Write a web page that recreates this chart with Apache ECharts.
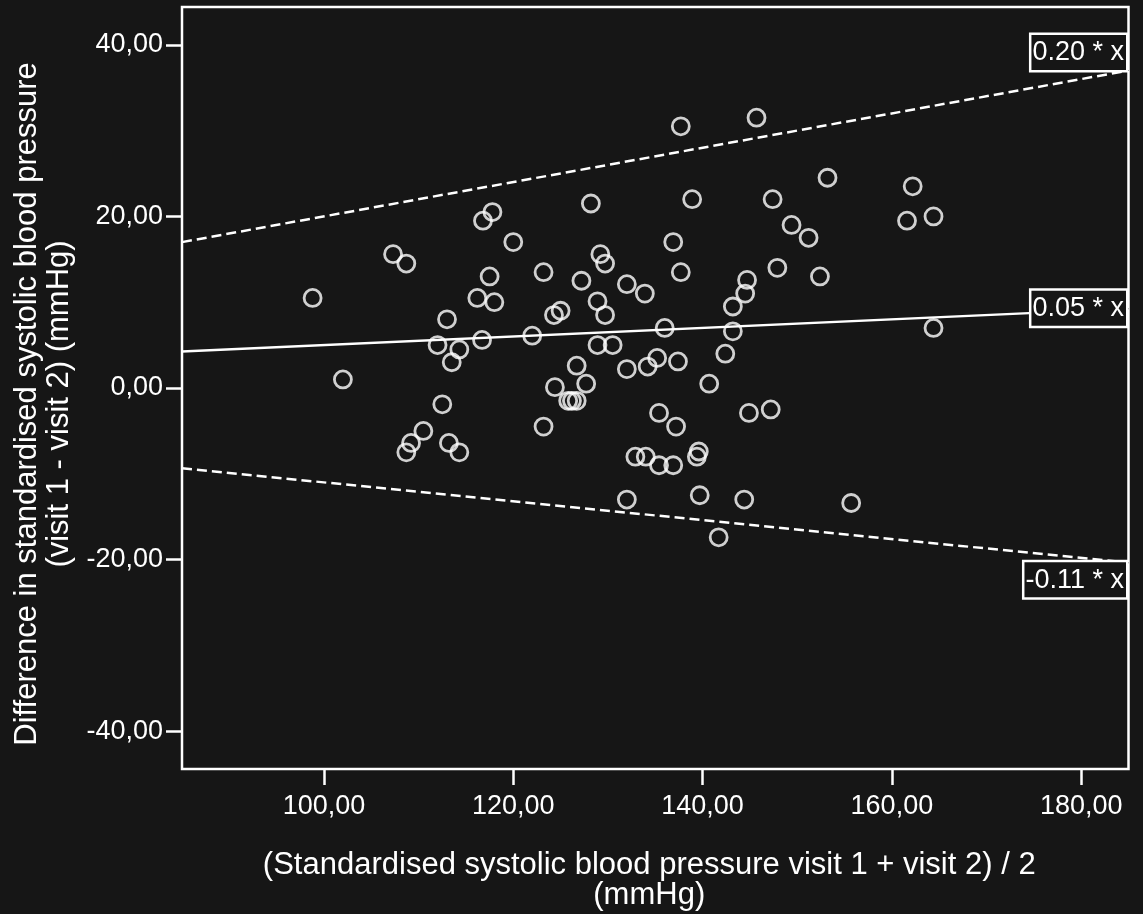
<!DOCTYPE html>
<html>
<head>
<meta charset="utf-8">
<title>Bland-Altman plot of standardised systolic blood pressure</title>
<script src="https://cdn.jsdelivr.net/npm/echarts@6/dist/echarts.min.js"></script>
<style>
  html, body { margin: 0; padding: 0; background: #161616; }
  #chart { width: 1143px; height: 914px; }
</style>
</head>
<body>
<div id="chart"></div>
<script>
// Mean of visit 1 and visit 2 (mmHg)
const meanBP = [
  98.8, 102.0, 107.3, 108.7, 108.7, 109.2, 110.5, 112.0, 112.5, 113.0,
  113.2, 113.5, 114.3, 114.3, 116.2, 116.8, 116.7, 117.5, 117.8, 118.0,
  120.0, 122.0, 123.2, 123.2, 124.3, 124.4, 125.0, 125.8, 126.2, 126.7,
  126.7, 127.2, 127.7, 128.2, 128.9, 129.2, 128.9, 129.7, 129.7, 130.5,
  132.0, 132.0, 132.0, 132.9, 133.9, 134.0, 134.2, 135.2, 135.4, 135.4,
  136.0, 136.9, 136.9, 137.2, 137.4, 137.7, 137.7, 138.9, 139.4, 139.6,
  139.7, 140.7, 141.7, 142.4, 143.2, 143.2, 144.4, 144.5, 144.7, 144.9,
  145.7, 147.2, 147.4, 147.9, 149.4, 151.2, 152.4, 153.2, 155.7, 161.6,
  162.2, 164.4, 164.4
];
// Difference visit 1 - visit 2 (mmHg)
const diffBP = [
  10.5, 1.0, 15.6, 14.5, -7.5, -6.4, -5.0, 5.0, -1.9, 8.0,
  -6.4, 3.0, 4.5, -7.5, 10.5, 19.5, 5.6, 13.0, 20.5, 10.0,
  17.0, 6.1, 13.5, -4.5, 8.5, 0.1, 9.0, -1.5, -1.5, -1.5,
  2.6, 12.5, 0.5, 21.5, 5.0, 15.6, 10.1, 14.5, 8.5, 5.0,
  12.1, 2.2, -13.0, -8.0, 11.0, -8.0, 2.5, 3.5, -9.0, -2.9,
  7.0, 17.0, -9.0, -4.5, 3.1, 30.5, 13.5, 22.0, -8.0, -7.4,
  -12.5, 0.5, -17.4, 4.0, 9.5, 6.6, -13.0, 11.0, 12.6, -2.9,
  31.5, -2.5, 22.0, 14.0, 19.0, 17.5, 13.0, 24.5, -13.4, 19.5,
  23.5, 20.0, 7.0
];
// Reference lines y = slope * x (upper limit, bias, lower limit)
const fitSlopes = [0.20, 0.05, -0.11];
const fitLabels = ['0.20 * x', '0.05 * x', '-0.11 * x'];
const xTicks = [100, 120, 140, 160, 180];
const yTicks = [-40, -20, 0, 20, 40];
const xRange = [85, 185];
const yRange = [-44.4, 44.4];

const FONT = "'Liberation Sans', Arial, sans-serif";
const FG = '#ffffff';
const BG = '#161616';
const fmt = v => v.toFixed(2).replace('.', ',');

const points = meanBP.map((m, i) => [m, diffBP[i]]);

const lineStyles = ['dashed', 'solid', 'dashed'];
const labelAlign = ['bottom', 'middle', 'top'];

const lineSeries = fitSlopes.map((s, i) => ({
  type: 'line',
  data: xRange.map(x => [x, s * x]),
  symbol: 'none',
  silent: true,
  z: 3,
  lineStyle: {
    color: FG,
    width: 2.5,
    type: lineStyles[i] === 'dashed' ? [10, 5] : 'solid'
  }
}));

const labelSeries = {
  type: 'scatter',
  silent: true,
  z: 10,
  symbolSize: 1,
  itemStyle: { color: BG, opacity: 1 },
  data: fitSlopes.map((s, i) => ({
    value: [xRange[1], s * xRange[1]],
    label: {
      show: true,
      position: [0, 0],
      align: 'right',
      verticalAlign: labelAlign[i],
      offset: [-2, 0],
      formatter: fitLabels[i],
      fontFamily: FONT,
      fontSize: 27,
      lineHeight: 30,
      color: FG,
      opacity: 1,
      textBorderWidth: 0,
      backgroundColor: BG,
      borderColor: FG,
      borderWidth: 2.5,
      padding: [3, 2, 2, 1]
    }
  }))
};

const chart = echarts.init(document.getElementById('chart'), null, { renderer: 'canvas' });
chart.setOption({
  backgroundColor: BG,
  animation: false,
  grid: {
    left: 182, right: 14.5, top: 7, bottom: 145,
    outerBoundsMode: 'none',
    containLabel: false,
    show: true, borderColor: FG, borderWidth: 2.5, backgroundColor: BG
  },
  xAxis: {
    type: 'value',
    min: xRange[0], max: xRange[1],
    name: '(Standardised systolic blood pressure visit 1 + visit 2) / 2\n(mmHg)',
    nameLocation: 'middle',
    nameGap: 81,
    nameTextStyle: { color: FG, fontFamily: FONT, fontSize: 31, lineHeight: 30, padding: [0, 12, 0, 0] },
    axisLine: { show: false, onZero: false },
    axisTick: { show: true, length: 16, lineStyle: { color: FG, width: 2.5 }, customValues: xTicks },
    axisLabel: { color: FG, fontFamily: FONT, fontSize: 27, margin: 24, formatter: fmt, customValues: xTicks },
    splitLine: { show: false }
  },
  yAxis: {
    type: 'value',
    min: yRange[0], max: yRange[1],
    name: 'Difference in standardised systolic blood pressure\n(visit 1 - visit 2) (mmHg)',
    nameLocation: 'middle',
    nameRotate: 90,
    nameGap: 106,
    nameTextStyle: { color: FG, fontFamily: FONT, fontSize: 31, lineHeight: 32, padding: [0, 32, 0, 0] },
    axisLine: { show: false, onZero: false },
    axisTick: { show: true, length: 16, lineStyle: { color: FG, width: 2.5 }, customValues: yTicks },
    axisLabel: { color: FG, fontFamily: FONT, fontSize: 27, margin: 19, formatter: fmt, customValues: yTicks },
    splitLine: { show: false }
  },
  series: [
    ...lineSeries,
    {
      type: 'scatter',
      data: points,
      symbol: 'circle',
      symbolSize: 17,
      z: 5,
      itemStyle: { color: 'rgba(0,0,0,0)', borderColor: FG, borderWidth: 2.8 }
    },
    labelSeries
  ]
});
</script>
</body>
</html>
